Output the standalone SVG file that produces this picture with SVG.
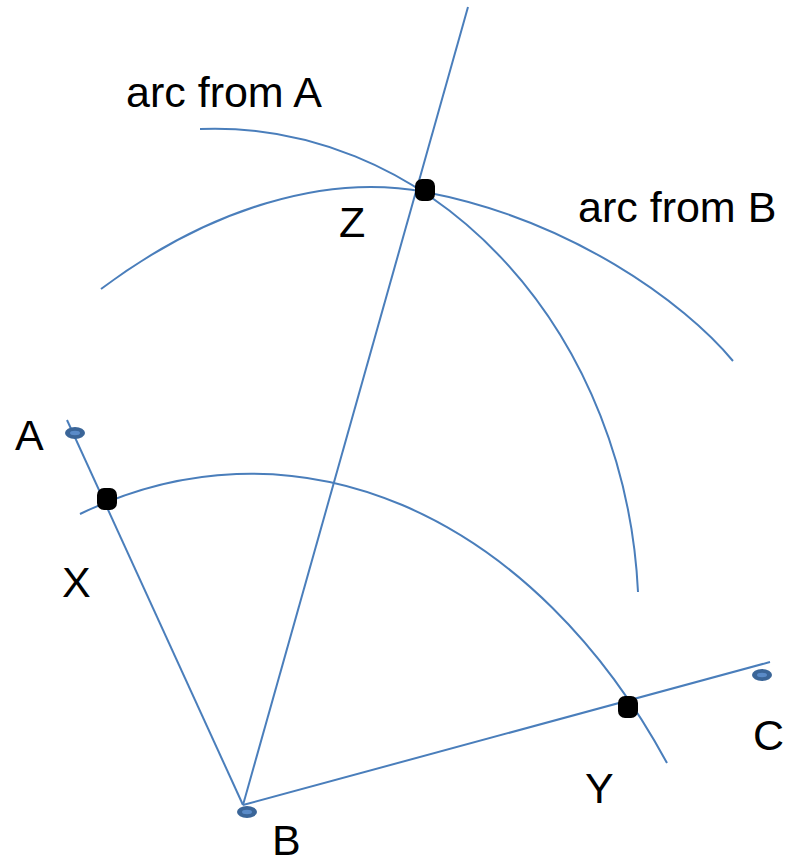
<svg xmlns="http://www.w3.org/2000/svg" width="792" height="865" viewBox="0 0 792 865">
<style>
.ln{fill:none;stroke:#4A7EBB;stroke-width:2;stroke-linecap:butt}
.lbl{font-family:"Liberation Sans",Arial,sans-serif;font-size:43px;fill:#000}
.pt-out{fill:#3A6598}
.pt-in{fill:#5A8BC8}
.mk{fill:#000}
</style>
<rect width="792" height="865" fill="#fff"/>
<g id="connectors">
<line class="ln" x1="67" y1="420" x2="243" y2="805"/>
<line class="ln" x1="243" y1="805" x2="770" y2="662"/>
<line class="ln" x1="243" y1="805" x2="468" y2="7"/>
<path id="arc-XY" class="ln" d="M80,514 A522.6,733 0 0 1 667,763"/>
<path id="arc-from-A" class="ln" d="M200,129 A424,490.5 0 0 1 638,592"/>
<path id="arc-from-B" class="ln" d="M101,289 C208.5,208.4 326.1,173.2 425,192 C570,219.5 683.8,301.9 733,361"/>
</g>
<g id="node-A">
<ellipse class="pt-out" cx="75" cy="433" rx="10" ry="6"/>
<ellipse class="pt-in" cx="75" cy="433" rx="5" ry="2.2"/>
<text class="lbl" x="15" y="450">A</text>
</g>
<g id="node-B">
<ellipse class="pt-out" cx="247" cy="812" rx="10" ry="6"/>
<ellipse class="pt-in" cx="247" cy="812" rx="5" ry="2.2"/>
<text class="lbl" x="272" y="855">B</text>
</g>
<g id="node-C">
<ellipse class="pt-out" cx="762" cy="675" rx="10" ry="6"/>
<ellipse class="pt-in" cx="762" cy="675" rx="5" ry="2.2"/>
<text class="lbl" x="753" y="750">C</text>
</g>
<g id="node-X">
<rect class="mk" x="97" y="488" width="20" height="22" rx="7"/>
<text class="lbl" x="62" y="597">X</text>
</g>
<g id="node-Y">
<rect class="mk" x="618" y="696" width="20" height="22" rx="7"/>
<text class="lbl" x="585" y="803">Y</text>
</g>
<g id="node-Z">
<rect class="mk" x="415" y="179" width="20" height="22" rx="7"/>
<text class="lbl" x="339" y="237">Z</text>
</g>
<g id="labels">
<text class="lbl" x="126" y="107">arc from A</text>
<text class="lbl" x="578" y="222">arc from B</text>
</g>
</svg>
